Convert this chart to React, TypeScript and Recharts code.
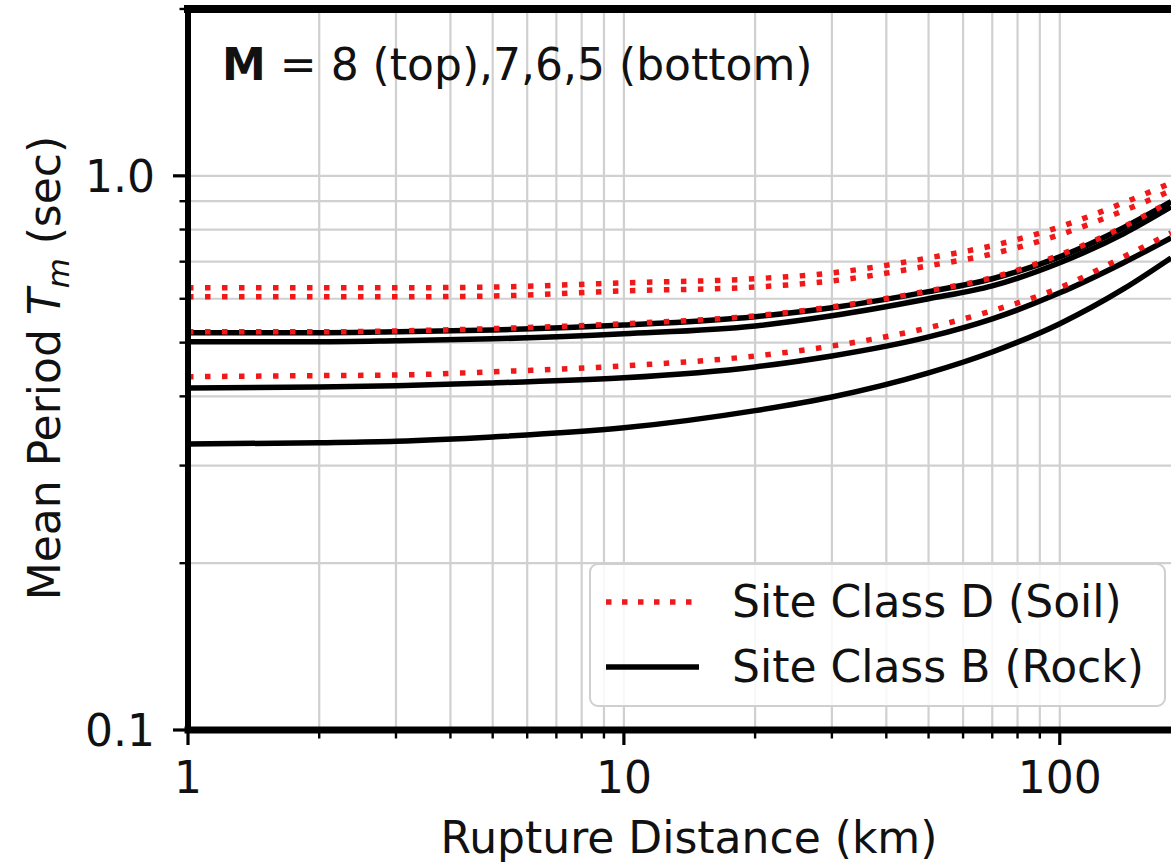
import { CartesianGrid, Legend, Line, LineChart, ReferenceLine, XAxis, YAxis } from 'recharts';

// rupture distance (km)
const DIST = [1, 2, 3, 5, 10, 20, 30, 50, 70, 100, 140, 180];

// Site Class D (soil), mean period in sec for M = 8, 7, 6, 5
const SOIL_M8 = [0.628, 0.628, 0.628, 0.63, 0.641, 0.652, 0.668, 0.711, 0.748, 0.809, 0.894, 0.971];
const SOIL_M7 = [0.605, 0.605, 0.605, 0.607, 0.62, 0.63, 0.646, 0.688, 0.723, 0.783, 0.865, 0.94];
const SOIL_M6 = [0.523, 0.523, 0.525, 0.53, 0.541, 0.559, 0.58, 0.62, 0.655, 0.72, 0.809, 0.901];
const SOIL_M5 = [0.434, 0.436, 0.437, 0.443, 0.454, 0.473, 0.493, 0.532, 0.571, 0.628, 0.714, 0.789];

// Site Class B (rock)
const ROCK_M8 = [0.521, 0.521, 0.523, 0.527, 0.538, 0.557, 0.578, 0.618, 0.652, 0.714, 0.806, 0.898];
const ROCK_M7 = [0.502, 0.502, 0.504, 0.508, 0.519, 0.536, 0.559, 0.6, 0.633, 0.697, 0.786, 0.879];
const ROCK_M6 = [0.414, 0.416, 0.418, 0.423, 0.432, 0.452, 0.473, 0.512, 0.552, 0.615, 0.697, 0.773];
const ROCK_M5 = [0.328, 0.33, 0.332, 0.338, 0.351, 0.377, 0.399, 0.441, 0.481, 0.541, 0.625, 0.711];

const X_TICKS = [1, 2, 3, 4, 5, 6, 7, 8, 9, 10, 20, 30, 40, 50, 60, 70, 80, 90, 100, 200];
const X_LABELED = [1, 10, 100];
const Y_TICKS = [0.1, 0.2, 0.3, 0.4, 0.5, 0.6, 0.7, 0.8, 0.9, 1, 2];
const Y_LABELS: [number, string][] = [
  [0.1, '0.1'],
  [1, '1.0'],
];

const SOIL_LABEL = 'Site Class D (Soil)';
const ROCK_LABEL = 'Site Class B (Rock)';

const FONT = '"DejaVu Sans", Verdana, sans-serif';
const RED = '#f01818';
const DOTS = '5.5 11.5';
const LW = 5.5;

const data = DIST.map((d, i) => ({
  d,
  s8: SOIL_M8[i],
  s7: SOIL_M7[i],
  s6: SOIL_M6[i],
  s5: SOIL_M5[i],
  r8: ROCK_M8[i],
  r7: ROCK_M7[i],
  r6: ROCK_M6[i],
  r5: ROCK_M5[i],
}));

function XTick({ x, y, payload }: any) {
  const major = X_LABELED.includes(payload.value);
  return (
    <g>
      <line x1={x} x2={x} y1={y} y2={y + (major ? 15 : 8.5)} stroke="#000" strokeWidth={major ? 3.2 : 2.4} />
      {major && (
        <text x={x} y={y + 63} textAnchor="middle" fontSize={44} fontFamily={FONT} fill="#111">
          {payload.value}
        </text>
      )}
    </g>
  );
}

function YTick({ x, y, payload }: any) {
  const lab = Y_LABELS.find(([v]) => Math.abs(v - payload.value) < 1e-9);
  return (
    <g>
      <line x1={x - (lab ? 15 : 8.5)} x2={x} y1={y} y2={y} stroke="#000" strokeWidth={lab ? 3.2 : 2.4} />
      {lab && (
        <text x={x - 33} y={y + 16} textAnchor="end" fontSize={44} fontFamily={FONT} fill="#111">
          {lab[1]}
        </text>
      )}
    </g>
  );
}

function LegendBox() {
  const row = (top: number, dashed: boolean, label: string) => (
    <div style={{ position: 'absolute', left: 0, top: top - 22, height: 44, width: '100%' }}>
      <svg width={110} height={44} style={{ position: 'absolute', left: 13, top: 0 }}>
        <line
          x1={2}
          x2={95}
          y1={22}
          y2={22}
          stroke={dashed ? RED : '#000'}
          strokeWidth={LW}
          strokeDasharray={dashed ? '5.5 10.5' : undefined}
        />
      </svg>
      <span
        style={{
          position: 'absolute',
          left: 141,
          top: 0,
          fontSize: 44,
          lineHeight: '44px',
          fontFamily: FONT,
          color: '#111',
          whiteSpace: 'nowrap',
        }}
      >
        {label}
      </span>
    </div>
  );
  return (
    <div
      style={{
        position: 'relative',
        width: 577,
        height: 144,
        boxSizing: 'border-box',
        border: '2px solid #cfcfcf',
        borderRadius: 9,
        background: 'rgba(255,255,255,0.85)',
      }}
    >
      {row(37, true, SOIL_LABEL)}
      {row(102, false, ROCK_LABEL)}
    </div>
  );
}

export default function App() {
  return (
    <div
      style={{
        position: 'absolute',
        left: 0,
        top: 0,
        width: 1171,
        height: 865,
        overflow: 'hidden',
        background: '#fff',
        fontFamily: FONT,
      }}
    >
      <LineChart width={1200} height={865} data={data} margin={{ top: 9, right: 9, bottom: 0, left: 88 }}>
        <CartesianGrid stroke="#d0d0d0" strokeWidth={2.2} />
        <XAxis
          dataKey="d"
          type="number"
          scale="log"
          domain={[1, 200]}
          ticks={X_TICKS}
          interval={0}
          allowDataOverflow
          height={135}
          tickSize={0}
          tickMargin={0}
          tickLine={false}
          tick={XTick}
          axisLine={{ stroke: '#000', strokeWidth: 7, strokeLinecap: 'square' }}
        />
        <YAxis
          type="number"
          scale="log"
          domain={[0.1, 2]}
          ticks={Y_TICKS}
          interval={0}
          allowDataOverflow
          width={100}
          tickSize={0}
          tickMargin={0}
          tickLine={false}
          tick={YTick}
          axisLine={{ stroke: '#000', strokeWidth: 6, strokeLinecap: 'square' }}
        />
        <ReferenceLine y={2} stroke="#000" strokeWidth={8} strokeLinecap="square" />
        {['r8', 'r7', 'r6', 'r5'].map((k) => (
          <Line key={k} dataKey={k} type="monotone" stroke="#000" strokeWidth={LW} dot={false} activeDot={false} isAnimationActive={false} />
        ))}
        {['s8', 's7', 's6', 's5'].map((k) => (
          <Line
            key={k}
            dataKey={k}
            type="monotone"
            stroke={RED}
            strokeWidth={LW}
            strokeDasharray={DOTS}
            dot={false}
            activeDot={false}
            isAnimationActive={false}
          />
        ))}
        <Legend
          layout="vertical"
          align="center"
          verticalAlign="middle"
          wrapperStyle={{ left: 589, top: 563, width: 577, height: 144 }}
          content={() => <LegendBox />}
        />
      </LineChart>

      <div style={{ position: 'absolute', left: 222, top: 43, fontSize: 44, lineHeight: '44px', whiteSpace: 'nowrap', color: '#111' }}>
        <b>M</b> = 8 (top),7,6,5 (bottom)
      </div>
      <div
        style={{
          position: 'absolute',
          left: 47,
          top: 368,
          fontSize: 44,
          lineHeight: '44px',
          whiteSpace: 'nowrap',
          color: '#111',
          transform: 'translate(-50%, -50%) rotate(-90deg)',
        }}
      >
        Mean Period <i>T</i>
        <i style={{ fontSize: '0.7em', position: 'relative', top: '0.3em' }}>m</i> (sec)
      </div>
      <div
        style={{
          position: 'absolute',
          left: 689,
          top: 816,
          fontSize: 44,
          lineHeight: '44px',
          whiteSpace: 'nowrap',
          color: '#111',
          transform: 'translateX(-50%)',
        }}
      >
        Rupture Distance (km)
      </div>
    </div>
  );
}
